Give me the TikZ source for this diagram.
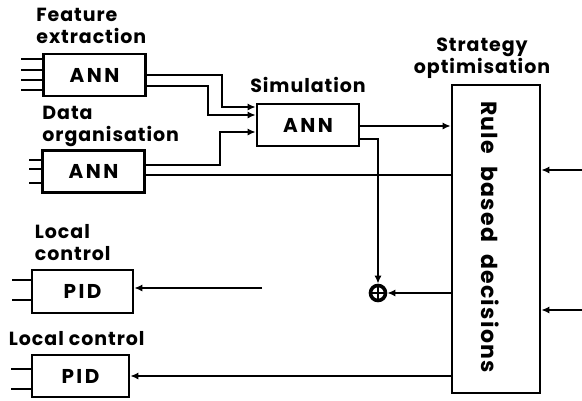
\documentclass[tikz,border=0pt]{standalone}
\usepackage{fontspec}
\setmainfont{Poppins}
\usetikzlibrary{arrows.meta,positioning,calc}
\tikzset{
  annbox/.style={
    rectangle, draw, line width=2.6pt, inner sep=0pt,
    minimum width=102pt, minimum height=42pt,
    font=\fontsize{20}{20}\selectfont\bfseries\addfontfeature{LetterSpace=12}
  },
  rulebox/.style={
    rectangle, draw, line width=2.6pt, inner sep=0pt,
    minimum width=88pt, minimum height=308pt
  },
  lbl/.style={
    font=\fontsize{19}{22}\selectfont\bfseries\addfontfeature{LetterSpace=5},
    align=left, inner sep=0pt
  },
  wire/.style={line width=2.1pt},
  arrowstyle/.style={
    -{Latex[length=8pt,width=7pt]}, line width=2.1pt
  },
  stub/.style={line width=2.1pt},
}

\begin{document}
\begin{tikzpicture}[x=1pt, y=-1pt]
  \useasboundingbox (0,0) rectangle (582,400);

  % blocks
  \node[annbox] (feat) at (94.5,75)  {ANN};
  \node[annbox] (data) at (93.5,171.5) {ANN};
  \node[annbox] (sim)  at (308,125)  {ANN};
  \node[rulebox] (strat) at (496,239) {};
  \node[annbox, minimum width=101pt, minimum height=43pt] (pid1) at (82.5,291.5) {PID};
  \node[annbox, minimum width=97pt] (pid2) at (80.5,376) {PID};
  \node[circle, draw, line width=3.6pt, minimum size=15pt, inner sep=0pt] (sum) at (378,293) {};
  \draw[line width=1.4pt] (sum.west) -- (sum.east) (sum.north) -- (sum.south);

  % labels
  \node[lbl, above right=9pt and -6pt of feat.north west] (featlbl) {Feature\\extraction};
  \node[lbl, above right=2pt and 1pt of data.north west] (datalbl) {Data\\organisation};
  \node[lbl, above=10pt of sim] (simlbl) {Simulation};
  \node[lbl, align=center, above=5pt of strat, xshift=-14pt] (stratlbl) {Strategy\\optimisation};
  \node[lbl, above right=8pt and 4pt of pid1.north west] (pid1lbl) {Local\\control};
  \node[lbl, above right=8pt and -22pt of pid2.north west] (pid2lbl) {Local control};
  \node[font=\fontsize{22}{22}\selectfont\bfseries\addfontfeature{LetterSpace=6}, rotate=-90]
    (rule) at (490,237) {Rule\ \ based\ \ decisions};

  % input stubs
  \foreach \dy in {-15,-5,5,16}
    \draw[stub] ([yshift=\dy]feat.west) -- ++(-21,0);
  \foreach \dy in {-11.5,2.5,11.5}
    \draw[stub] ([yshift=\dy]data.west) -- ++(-12,0);
  \foreach \dy in {-8.5,11.5}
    \draw[stub] ([yshift=\dy]pid1.west) -- ++(-19,0);
  \foreach \dy in {-13,7}
    \draw[stub] ([yshift=\dy]pid2.west) -- ++(-20,0);

  % ANN to simulation
  \draw[arrowstyle] (feat.east) -| (222,107) -- (sim.west |- 0,107);
  \draw[arrowstyle] ([yshift=-11]feat.east) -| (208,115) -- (sim.west |- 0,115);
  \draw[arrowstyle] ([yshift=6.5]data.east) -| (220,132) -- (sim.west |- 0,132);
  \draw[wire] ([yshift=-3.5]data.east) -- (strat.west |- 0,175);

  % simulation outputs
  \draw[arrowstyle] ([yshift=-1]sim.east) -- (strat.west |- 0,126);
  \draw[arrowstyle] ([yshift=-14]sim.east) -| (sum.north);
  \draw[arrowstyle] (strat.west |- sum) -- (sum.east);

  % rule based outputs / inputs
  \draw[arrowstyle] (strat.west |- 0,376) -- (pid2.east |- 0,376);
  \coordinate (cmd) at (262,288);
  \draw[arrowstyle] (cmd) -- (pid1.east |- cmd);
  \coordinate (inA) at (582,170);
  \coordinate (inB) at (582,310);
  \draw[arrowstyle] (inA) -- (strat.east |- inA);
  \draw[arrowstyle] (inB) -- (strat.east |- inB);
\end{tikzpicture}
\end{document}
